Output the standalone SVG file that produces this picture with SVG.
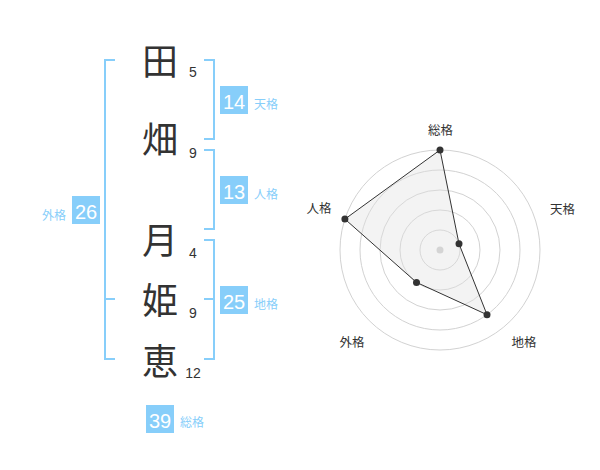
<svg xmlns="http://www.w3.org/2000/svg" width="600" height="470" viewBox="0 0 600 470">
<style>
.kanji{font-family:"Noto Sans CJK JP","Noto Sans CJK SC",sans-serif;font-size:36px;fill:#333;text-anchor:middle}
.num{font-family:"Liberation Sans",Arial,sans-serif;font-size:14px;fill:#333;text-anchor:middle}
.badge{fill:#87cefa}
.btxt{font-family:"Liberation Sans",Arial,sans-serif;font-size:20px;fill:#fff;text-anchor:middle}
.lbl{font-family:"Noto Sans CJK JP","Noto Sans CJK SC",sans-serif;font-size:12px;fill:#87cefa}
.br{fill:none;stroke:#87cefa;stroke-width:2}
.ring{fill:none;stroke:#d2d2d2;stroke-width:1}
.rlbl{font-family:"Noto Sans CJK JP","Noto Sans CJK SC",sans-serif;font-size:12.5px;fill:#333;text-anchor:middle}
.pt{fill:#333}
</style>
<rect width="600" height="470" fill="#fff"/>
<g id="connectors">
<path class="br" d="M115,60 H105 V359 H115 M105,299 H115"/>
<path class="br" d="M204,60 H214 V139 H204"/>
<path class="br" d="M204,150 H214 V229 H204"/>
<path class="br" d="M204,240 H214 V359 H204 M204,299 H214"/>
</g>
<g id="char-ta"><text class="kanji" x="160" y="75">田</text><text class="num" x="193" y="77">5</text></g>
<g id="char-hatake"><text class="kanji" x="160" y="153">畑</text><text class="num" x="193" y="158">9</text></g>
<g id="char-tsuki"><text class="kanji" x="160" y="254">月</text><text class="num" x="193" y="258">4</text></g>
<g id="char-hime"><text class="kanji" x="160" y="314">姫</text><text class="num" x="193" y="318">9</text></g>
<g id="char-megumi"><text class="kanji" x="160" y="375">恵</text><text class="num" x="193" y="378">12</text></g>
<g id="tenkaku"><rect class="badge" x="220" y="86" width="28" height="28"/><text class="btxt" x="234" y="108.5">14</text><text class="lbl" x="254" y="108.5">天格</text></g>
<g id="jinkaku"><rect class="badge" x="220" y="176" width="28" height="28"/><text class="btxt" x="234" y="198.5">13</text><text class="lbl" x="254" y="198.5">人格</text></g>
<g id="chikaku"><rect class="badge" x="220" y="286" width="28" height="28"/><text class="btxt" x="234" y="308.5">25</text><text class="lbl" x="254" y="308.5">地格</text></g>
<g id="gaikaku"><rect class="badge" x="72" y="196" width="28" height="28"/><text class="btxt" x="86" y="218.5">26</text><text class="lbl" x="66" y="219.5" text-anchor="end">外格</text></g>
<g id="soukaku"><rect class="badge" x="146" y="405" width="28" height="28"/><text class="btxt" x="160" y="427.5">39</text><text class="lbl" x="180" y="427">総格</text></g>
<g id="radar">
<circle class="ring" cx="440" cy="250" r="20"/>
<circle class="ring" cx="440" cy="250" r="40"/>
<circle class="ring" cx="440" cy="250" r="60"/>
<circle class="ring" cx="440" cy="250" r="80"/>
<circle class="ring" cx="440" cy="250" r="100"/>
<circle cx="440" cy="250" r="3.5" fill="#ccc"/>
<polygon points="440,150 459,243.8 487,314.7 416.5,282.4 344.9,219.1" fill="#e0e0e0" fill-opacity="0.4" stroke="#333" stroke-width="1"/>
<circle class="pt" cx="440" cy="150" r="3.5"/>
<circle class="pt" cx="459" cy="243.8" r="3.5"/>
<circle class="pt" cx="487" cy="314.7" r="3.5"/>
<circle class="pt" cx="416.5" cy="282.4" r="3.5"/>
<circle class="pt" cx="344.9" cy="219.1" r="3.5"/>
<text class="rlbl" x="440.5" y="135">総格</text>
<text class="rlbl" x="562.5" y="213.5">天格</text>
<text class="rlbl" x="319" y="212.5">人格</text>
<text class="rlbl" x="352" y="346.5">外格</text>
<text class="rlbl" x="524" y="346.5">地格</text>
</g>
</svg>
